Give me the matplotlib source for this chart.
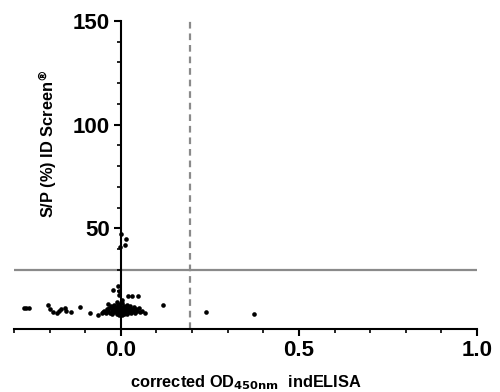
import matplotlib.pyplot as plt
from matplotlib.ticker import MultipleLocator, FixedLocator

plt.rcParams.update({
    "font.family": ["Liberation Sans", "DejaVu Sans"],
    "font.weight": "bold",
})

# corrected OD450nm indELISA vs S/P (%) ID Screen
od_tail = [-0.272, -0.265, -0.258, -0.204, -0.200, -0.190, -0.180, -0.173, -0.167,
           -0.157, -0.153, -0.139, -0.115, -0.087, -0.064]
sp_tail = [11.5, 11.5, 11.5, 13.0, 11.0, 9.8, 9.0, 10.3, 11.0,
           11.4, 10.3, 9.8, 12.2, 9.0, 8.2]

od_high = [0.000, 0.015, 0.013, -0.003, -0.009, -0.021, -0.006, -0.004, 0.021,
           0.032, 0.047, 0.004, -0.012, 0.118, -0.037, 0.239, 0.374, 0.067, 0.058]
sp_high = [47.5, 45.0, 42.0, 41.0, 22.0, 20.5, 20.0, 18.0, 17.4,
           17.4, 17.4, 15.5, 14.7, 13.0, 13.5, 9.7, 8.7, 9.3, 10.3]

od_core = [-0.054, -0.050, -0.046, -0.042, -0.040, -0.036, -0.033, -0.030, -0.028,
           -0.026, -0.024, -0.022, -0.020, -0.018, -0.016, -0.014, -0.012, -0.010,
           -0.009, -0.008, -0.006, -0.005, -0.004, -0.003, -0.002, -0.001, 0.000,
           0.000, 0.001, 0.002, 0.003, 0.004, 0.005, 0.006, 0.008, 0.009, 0.010,
           0.012, 0.013, 0.015, 0.017, 0.018, 0.020, 0.022, 0.024, 0.026, 0.028,
           0.031, 0.034, 0.037, 0.040, 0.043, 0.046, 0.050, 0.054]
sp_core = [9.0, 9.8, 10.4, 9.2, 11.2, 10.0, 11.8, 9.4, 12.4,
           10.6, 8.8, 11.4, 13.0, 9.8, 10.8, 12.0, 8.6, 9.6,
           11.0, 13.4, 10.2, 8.4, 12.6, 9.2, 11.6, 10.0, 8.8,
           12.0, 9.6, 14.0, 10.8, 8.2, 11.2, 9.4, 12.8, 10.2, 8.6,
           11.6, 9.2, 10.6, 13.2, 8.8, 11.8, 9.8, 10.8, 12.4, 9.0,
           11.0, 10.0, 12.0, 9.4, 11.2, 10.2, 11.6, 9.6]

sp_cutoff = 30
od_cutoff = 0.195

fig = plt.figure(figsize=(5.0, 3.92), dpi=100)
ax = fig.add_axes([0.028, 0.1607, 0.926, 0.7857])

ax.axhline(sp_cutoff, color="#8a8a8a", lw=1.6, zorder=1)
ax.axvline(od_cutoff, color="#8a8a8a", lw=1.6, ls=(0, (3, 2.2)), zorder=1)

for xs, ys in [(od_tail, sp_tail), (od_high, sp_high), (od_core, sp_core)]:
    ax.scatter(xs, ys, s=11, color="black", lw=0, zorder=3)

ax.set_xlim(-0.3, 1.0)
ax.set_ylim(1.5, 150)

ax.spines["left"].set_position(("data", 0))
ax.spines["top"].set_visible(False)
ax.spines["right"].set_visible(False)
for s in ["left", "bottom"]:
    ax.spines[s].set_linewidth(1.5)

ax.xaxis.set_major_locator(FixedLocator([0.0, 0.5, 1.0]))
ax.xaxis.set_minor_locator(MultipleLocator(0.1))
ax.yaxis.set_major_locator(FixedLocator([50, 100, 150]))
ax.yaxis.set_minor_locator(FixedLocator(list(range(10, 150, 10))))
ax.set_xticklabels(["0.0", "0.5", "1.0"])

ax.tick_params(which="major", length=5, width=1.5, labelsize=16, pad=3)
ax.tick_params(which="minor", length=3, width=1.2)
for lab in ax.get_xticklabels() + ax.get_yticklabels():
    lab.set_fontweight("bold")

fig.text(0.096, 1 - 144 / 392, "S/P (%) ID Screen$^{\\circledR}$", rotation=90,
         ha="center", va="center", fontsize=11.8, fontweight="bold")
fig.text(0.492, 1 - 383 / 392, "corrected OD$_{\\mathbf{450nm}}$  indELISA",
         ha="center", va="center", fontsize=11.8, fontweight="bold")

fig.savefig("out.png", dpi=100)
